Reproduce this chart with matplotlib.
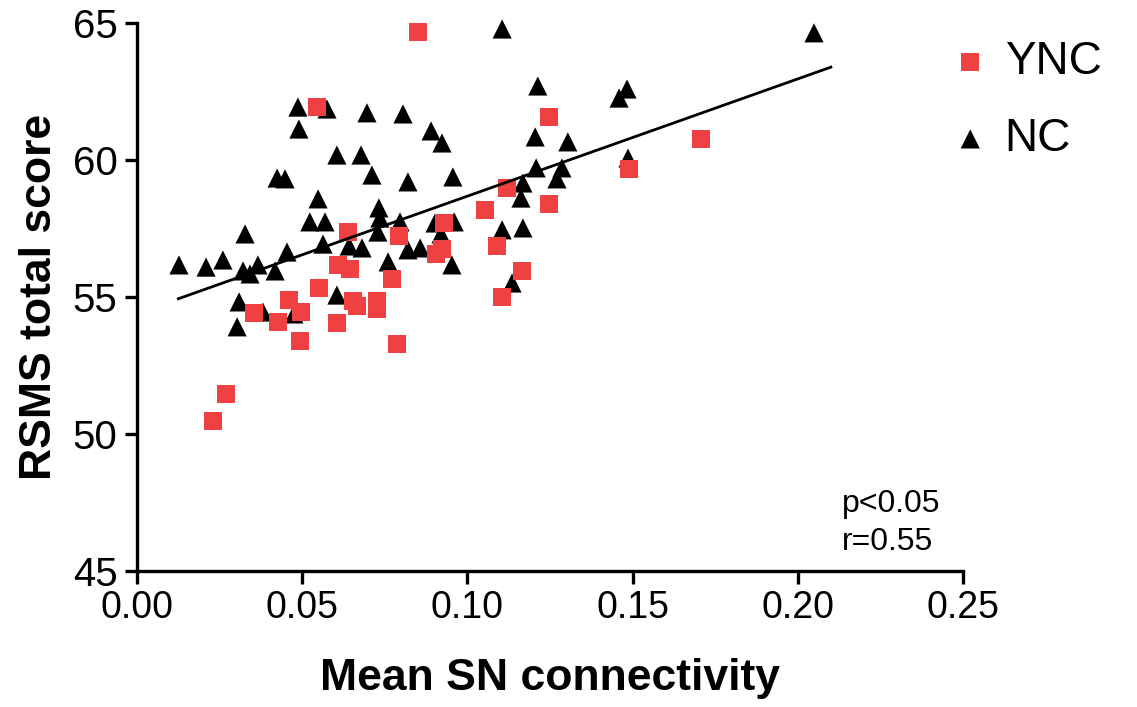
import numpy as np
import matplotlib.pyplot as plt

plt.rcParams['font.family'] = ['Liberation Sans', 'DejaVu Sans']

# YNC group (red squares): mean SN connectivity, RSMS total score
ync_x = [0.0850, 0.0545, 0.1247, 0.1707, 0.1489, 0.1120, 0.1247, 0.1053, 0.0929,
         0.0639, 0.0793, 0.1090, 0.0905, 0.0923, 0.1165, 0.1105, 0.0608,
         0.0645, 0.0772, 0.0551, 0.0460, 0.0496, 0.0354, 0.0427, 0.0654, 0.0666,
         0.0726, 0.0726, 0.0605, 0.0493, 0.0787, 0.0269, 0.0230]
ync_y = [64.67, 61.93, 61.57, 60.77, 59.67, 58.98, 58.39, 58.18, 57.70,
         57.37, 57.23, 56.86, 56.57, 56.75, 55.95, 55.00, 56.17,
         56.02, 55.66, 55.33, 54.89, 54.45, 54.42, 54.09, 54.85, 54.67,
         54.85, 54.56, 54.05, 53.39, 53.28, 51.46, 50.47]

# NC group (black triangles)
nc_x = [0.1105, 0.2049, 0.1213, 0.1483, 0.1459, 0.0487, 0.0575, 0.0696, 0.0805,
        0.0490, 0.0890, 0.1205, 0.0923, 0.1304, 0.0605, 0.0678, 0.1486, 0.1208,
        0.1286, 0.0956, 0.1271, 0.0711, 0.0424, 0.0448, 0.0820, 0.1168, 0.1162,
        0.0548, 0.0732, 0.0735, 0.0523, 0.0569, 0.0796, 0.0902, 0.0960, 0.1105,
        0.1168, 0.0729, 0.0327, 0.0563, 0.0642, 0.0681, 0.0820, 0.0857, 0.0454,
        0.0127, 0.0209, 0.0260, 0.0321, 0.0342, 0.0366, 0.0418, 0.0760, 0.0953,
        0.1135, 0.0605, 0.0309, 0.0381, 0.0475, 0.0303, 0.0920]
nc_y = [64.78, 64.64, 62.70, 62.59, 62.26, 61.93, 61.86, 61.72, 61.68,
        61.13, 61.06, 60.84, 60.62, 60.66, 60.18, 60.18, 60.07, 59.71,
        59.71, 59.38, 59.31, 59.45, 59.34, 59.31, 59.20, 59.16, 58.61,
        58.58, 58.25, 57.88, 57.74, 57.74, 57.74, 57.70, 57.74, 57.45,
        57.52, 57.37, 57.30, 56.93, 56.86, 56.79, 56.72, 56.79, 56.64,
        56.17, 56.09, 56.35, 55.95, 55.84, 56.17, 55.95, 56.28, 56.17,
        55.51, 55.07, 54.82, 54.45, 54.38, 53.91, 57.30]

# regression line
fit_x = [0.0125, 0.2100]
fit_slope = 42.8
fit_intercept = 54.40

red = '#ef4141'

fig = plt.figure(figsize=(11.37, 7.07), dpi=100)
ax = fig.add_axes([0.1205, 0.1924, 0.7265, 0.7751])

ax.scatter(nc_x, nc_y, marker='^', s=190, color='black', edgecolors='none',
           label='NC', zorder=3, clip_on=False)
ax.scatter(ync_x, ync_y, marker='s', s=170, color=red, edgecolors='none',
           label='YNC', zorder=4, clip_on=False)

fx = np.array(fit_x)
ax.plot(fx, fit_intercept + fit_slope * fx, color='black', lw=2, zorder=5)

ax.set_xlim(0, 0.25)
ax.set_ylim(45, 65)
ax.set_xticks(np.arange(0, 0.2501, 0.05))
ax.set_xticklabels(['0.00', '0.05', '0.10', '0.15', '0.20', '0.25'])
ax.set_yticks([45, 50, 55, 60, 65])

for s in ['top', 'right']:
    ax.spines[s].set_visible(False)
for s in ['left', 'bottom']:
    ax.spines[s].set_linewidth(2.4)
ax.tick_params(width=2.4, length=9, labelsize=27, pad=5)
ax.tick_params(axis='y', labelsize=29)

ax.set_xlabel('Mean SN connectivity', fontsize=32, fontweight='bold', labelpad=23)
ax.set_ylabel('RSMS total score', fontsize=32, fontweight='bold', labelpad=9)

ax.text(0.8535, 0.0876, 'p<0.05\nr=0.55', transform=ax.transAxes, fontsize=23,
        va='center', ha='left', linespacing=1.38)

handles, labels = ax.get_legend_handles_labels()
ax.legend(handles[::-1], labels[::-1], loc='upper left', bbox_to_anchor=(0.981, 0.969),
          frameon=False, fontsize=33, handlelength=1.0, handletextpad=0.25,
          labelspacing=0.72, borderaxespad=0, borderpad=0)

fig.savefig('out.png', dpi=100)
